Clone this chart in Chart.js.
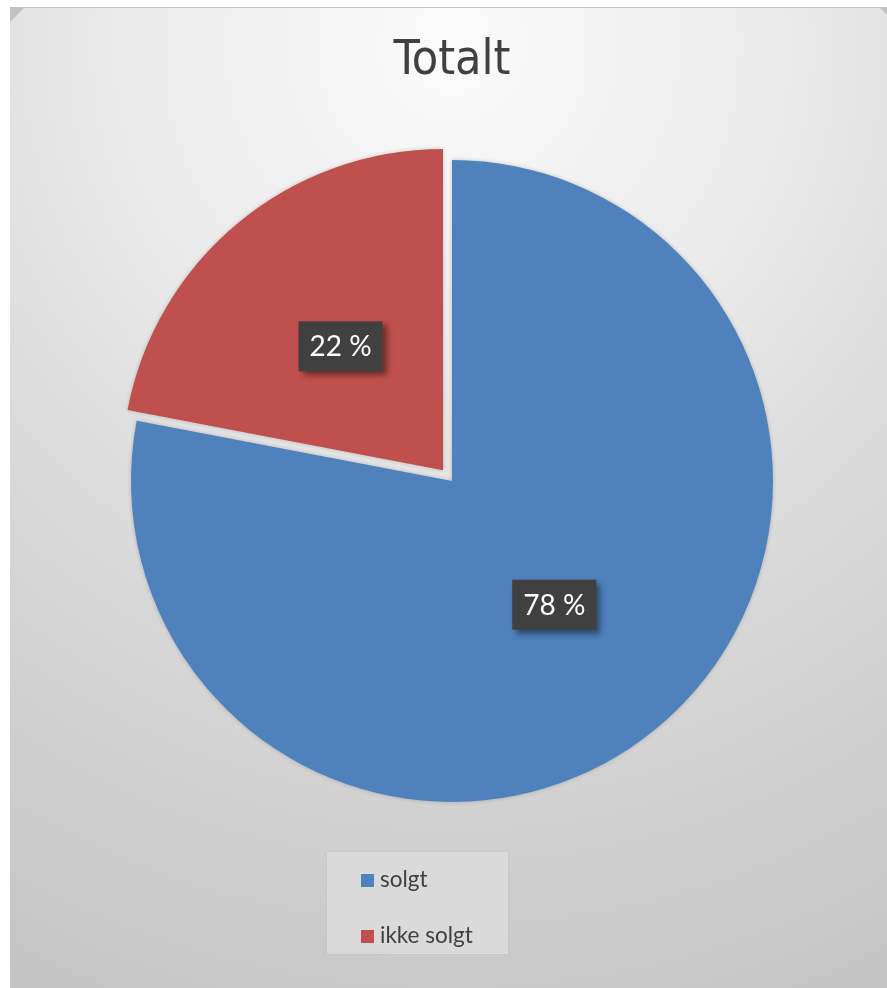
<!DOCTYPE html>
<html>
<head>
<meta charset="utf-8">
<script src="https://cdn.jsdelivr.net/npm/chart.js@4/dist/chart.umd.min.js"></script>
<style>
  html, body { margin: 0; padding: 0; background: #fff; }
  body { width: 887px; height: 988px; position: relative; overflow: hidden; }
  #ramme {
    position: absolute; left: 10px; top: 7px; width: 884px; height: 990px;
    background: #c2c2c2;
  }
  #flate {
    position: absolute; left: 0; top: 1px; right: 0; bottom: 0;
    background: radial-gradient(ellipse 115% 105% at 50% 4%, #fbfbfb 0%, #ececec 30%, #d8d8d8 60%, #c4c4c4 100%);
    clip-path: polygon(14px 0, calc(100% - 14px) 0, 100% 14px, 100% 100%, 0 100%, 0 14px);
  }
  #graf { position: absolute; left: 0; top: 0; }
  #forklaring {
    position: absolute; left: 327px; top: 852px; width: 181px; height: 102px;
    background: #dadada; box-shadow: 0 0 2px rgba(0,0,0,0.08);
    font-family: Lato, "Open Sans", sans-serif; font-size: 22.5px; color: #404040;
  }
  .post { position: absolute; left: 34px; height: 26px; line-height: 26px; white-space: nowrap; }
  .post span.farge { display: inline-block; width: 13px; height: 13px; margin-right: 6px; vertical-align: 0px; }
</style>
</head>
<body>
<div id="ramme"><div id="flate"></div></div>
<canvas id="graf" width="887" height="988"></canvas>
<div id="forklaring"></div>
<script>
const kategorier = ['solgt', 'ikke solgt'];
const verdier = [78, 22];
const farger = ['#4F81BD', '#C0504D'];
const utskyv = [0, 56]; // Chart.js v4 flytter sektoren ca. offset/4

// dataetiketter: mørk boks med skygge midt i hver sektor
const etiketter = {
  id: 'etiketter',
  afterDatasetsDraw(chart) {
    const ctx = chart.ctx;
    const meta = chart.getDatasetMeta(0);
    const sum = verdier.reduce((a, b) => a + b, 0);
    meta.data.forEach((bue, i) => {
      // samme forskyvning som sektoren får når den tegnes
      const midt = (bue.startAngle + bue.endAngle) / 2;
      const vinkel = bue.endAngle - bue.startAngle;
      const fix = 1 - Math.sin(Math.min(Math.PI, vinkel));
      const d = (utskyv[i] / 4) * (1 + fix);
      const r = (bue.innerRadius + bue.outerRadius) / 2 + d;
      const x = bue.x + Math.cos(midt) * r;
      const y = bue.y + Math.sin(midt) * r;
      const tekst = Math.round(verdier[i] / sum * 100) + ' %';
      ctx.save();
      ctx.font = '28px Lato, "Open Sans", sans-serif';
      const w = ctx.measureText(tekst).width + 22;
      const h = 50;
      ctx.shadowColor = 'rgba(0,0,0,0.45)';
      ctx.shadowBlur = 6;
      ctx.shadowOffsetX = 4;
      ctx.shadowOffsetY = 4;
      ctx.fillStyle = '#404040';
      ctx.fillRect(x - w / 2, y - h / 2, w, h);
      ctx.shadowColor = 'transparent';
      ctx.fillStyle = '#ffffff';
      ctx.textAlign = 'center';
      ctx.textBaseline = 'middle';
      ctx.fillText(tekst, x, y + 1);
      ctx.restore();
    });
  }
};

// svak skygge under sektorene
const skygge = {
  id: 'skygge',
  beforeDatasetsDraw(chart) {
    const ctx = chart.ctx;
    ctx.save();
    ctx.shadowColor = 'rgba(0,0,0,0.2)';
    ctx.shadowBlur = 4;
  },
  afterDatasetsDraw(chart) {
    chart.ctx.restore();
  }
};

new Chart(document.getElementById('graf'), {
  type: 'pie',
  data: {
    labels: kategorier,
    datasets: [{
      data: verdier,
      backgroundColor: farger,
      borderWidth: 0,
      offset: utskyv
    }]
  },
  options: {
    responsive: false,
    animation: false,
    layout: { padding: { left: 103, right: 86, top: 33, bottom: 158 } },
    plugins: {
      legend: { display: false },
      tooltip: { enabled: false },
      title: {
        display: true,
        text: 'Totalt',
        color: '#404040',
        font: { family: '"Liberation Sans Narrow", "DejaVu Sans Condensed", sans-serif', size: 48, weight: 'normal', lineHeight: 1.2 },
        padding: { top: 0, bottom: 41.4 }
      }
    }
  },
  plugins: [skygge, etiketter]
});

// forklaring bygget fra de samme listene
const boks = document.getElementById('forklaring');
kategorier.forEach((navn, i) => {
  const d = document.createElement('div');
  d.className = 'post';
  d.style.top = (14 + i * 56) + 'px';
  d.innerHTML = '<span class="farge" style="background:' + farger[i] + '"></span>' + navn;
  boks.appendChild(d);
});
</script>
</body>
</html>
